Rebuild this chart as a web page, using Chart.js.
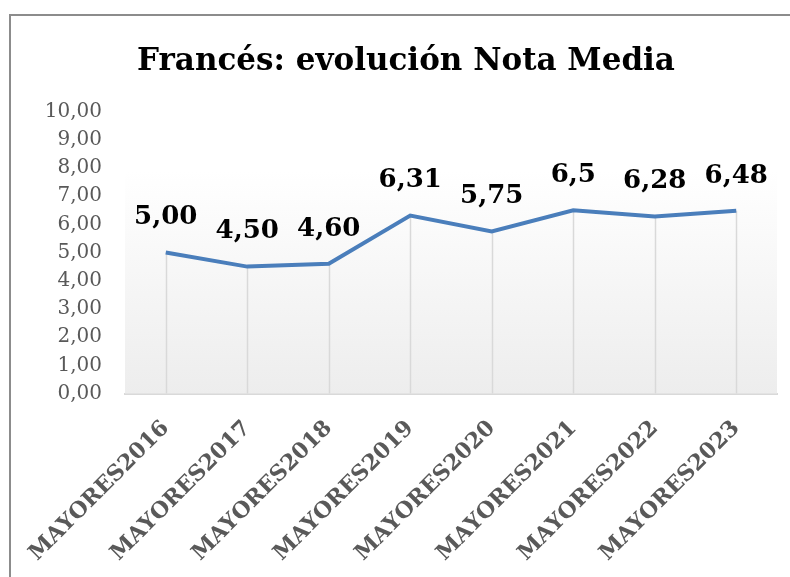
<!DOCTYPE html>
<html>
<head>
<meta charset="utf-8">
<script src="https://cdn.jsdelivr.net/npm/chart.js@4"></script>
<style>
  html, body { margin: 0; padding: 0; background: #fff; overflow: hidden; width: 790px; height: 577px; }
  .frame { position: absolute; left: 9px; top: 14px; right: 0; bottom: 0; border-top: 2px solid #8c8c8c; border-left: 2px solid #8c8c8c; }
  canvas { position: absolute; left: 0; top: 0; }
</style>
</head>
<body>
<div class="frame"></div>
<canvas id="chart" width="790" height="577"></canvas>
<script>
// chart data
const categories = ['MAYORES2016', 'MAYORES2017', 'MAYORES2018', 'MAYORES2019', 'MAYORES2020', 'MAYORES2021', 'MAYORES2022', 'MAYORES2023'];
const notaMedia  = [5.00, 4.50, 4.60, 6.31, 5.75, 6.5, 6.28, 6.48];
const labelText  = ['5,00', '4,50', '4,60', '6,31', '5,75', '6,5', '6,28', '6,48'];
const yTicks     = [0, 1, 2, 3, 4, 5, 6, 7, 8, 9, 10];
const titleText  = 'Francés: evolución Nota Media';

const SERIF = '"DejaVu Serif", "Liberation Serif", serif';

// plot area background (white -> light grey) and drop lines under the points
const backdrop = {
  id: 'backdrop',
  beforeDatasetsDraw(chart) {
    const { ctx, chartArea: a, scales: { y } } = chart;
    const top = y.getPixelForValue(7.9);
    const g = ctx.createLinearGradient(0, top, 0, a.bottom);
    g.addColorStop(0, '#ffffff');
    g.addColorStop(1, '#ededed');
    ctx.save();
    ctx.fillStyle = g;
    ctx.fillRect(a.left, top, a.right - a.left, a.bottom - top);
    ctx.strokeStyle = '#d9d9d9';
    ctx.lineWidth = 1.5;
    chart.getDatasetMeta(0).data.forEach(p => {
      ctx.beginPath();
      ctx.moveTo(Math.round(p.x) + 0.5, p.y);
      ctx.lineTo(Math.round(p.x) + 0.5, a.bottom);
      ctx.stroke();
    });
    ctx.restore();
  }
};

// bold value labels above each point, plus the title (Excel centres it on the frame, not the canvas)
const valueLabels = {
  id: 'valueLabels',
  afterDatasetsDraw(chart) {
    const { ctx } = chart;
    ctx.save();
    ctx.font = `bold 26px ${SERIF}`;
    ctx.fillStyle = '#000';
    ctx.textAlign = 'center';
    ctx.textBaseline = 'middle';
    chart.getDatasetMeta(0).data.forEach((p, i) => {
      ctx.fillText(labelText[i], p.x, p.y - 35);
    });
    ctx.font = `bold 31px ${SERIF}`;
    ctx.textBaseline = 'alphabetic';
    ctx.fillText(titleText, 406, 70);
    ctx.restore();
  }
};

new Chart(document.getElementById('chart'), {
  type: 'line',
  data: {
    labels: categories,
    datasets: [{
      data: notaMedia,
      borderColor: '#4a7ebb',
      borderWidth: 4,
      pointRadius: 0,
      tension: 0,
      fill: false
    }]
  },
  options: {
    responsive: false,
    animation: false,
    layout: { padding: { left: 0, right: 13, top: 111.5, bottom: 0 } },
    plugins: {
      legend: { display: false },
      tooltip: { enabled: false },
      title: { display: false }
    },
    scales: {
      x: {
        offset: true,
        grid: { display: false },
        border: { display: true, color: '#d9d9d9', width: 2 },
        ticks: {
          color: '#595959',
          font: { family: SERIF, size: 22, weight: 'bold' },
          minRotation: 45,
          maxRotation: 45,
          padding: 14
        },
        afterFit: s => { s.height = 183.5; }
      },
      y: {
        min: 0,
        max: 10,
        afterBuildTicks: s => { s.ticks = yTicks.map(v => ({ value: v })); },
        grid: { display: false, drawTicks: false },
        border: { display: false },
        ticks: {
          color: '#595959',
          font: { family: SERIF, size: 20 },
          padding: 23,
          callback: v => v.toFixed(2).replace('.', ',')
        },
        afterFit: s => { s.width = 125; }
      }
    }
  },
  plugins: [backdrop, valueLabels]
});
</script>
</body>
</html>
